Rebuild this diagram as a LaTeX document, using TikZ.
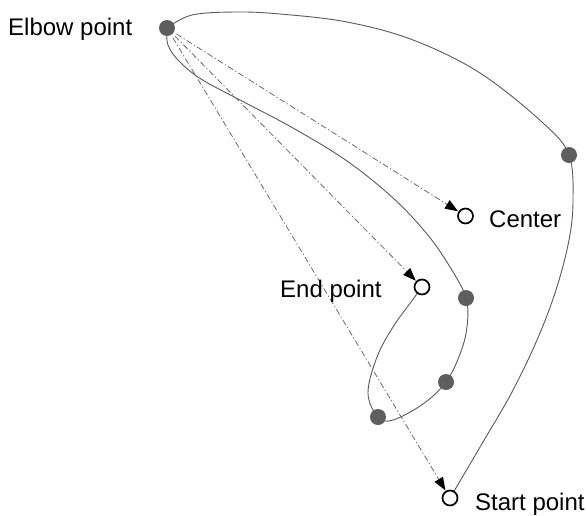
\documentclass[tikz,border=0pt]{standalone}
\usepackage{fontspec}
\setmainfont{Liberation Sans}
\usetikzlibrary{arrows.meta}
\definecolor{dotgray}{HTML}{5E5E5E}
\definecolor{pathgray}{HTML}{5A5A5A}
\definecolor{linkgray}{HTML}{6A6A6A}
\tikzset{
  waypoint/.style={circle, fill=dotgray, draw=none, minimum size=16pt, inner sep=0pt},
  openpoint/.style={circle, fill=white, draw=black, line width=1.7pt, minimum size=15pt, inner sep=0pt},
  trajectory/.style={draw=pathgray, line width=0.9pt},
  link/.style={draw=linkgray, line width=0.8pt,
    dash pattern=on 6pt off 2.5pt on 1.2pt off 2.5pt,
    -{Triangle[length=13pt,width=10pt,fill=black,line width=0pt]}, shorten <=3pt, shorten >=0.5pt},
  caption/.style={anchor=base west, inner sep=0pt, font=\fontsize{24}{28}\selectfont}
}
\begin{document}
\begin{tikzpicture}[x=1pt, y=-1pt]
  \useasboundingbox (0,0) rectangle (587,515);

  % positions of the marked points
  \coordinate (pElbow) at (167,28);
  \coordinate (pRight) at (569,155);
  \coordinate (pCenter) at (465.5,216);
  \coordinate (pEnd) at (422,287);
  \coordinate (pInA) at (466,298);
  \coordinate (pInB) at (446,382);
  \coordinate (pInC) at (378,417);
  \coordinate (pStart) at (450,498);

  % outer arc: start point up to the elbow
  \draw[trajectory] plot[smooth, tension=0.6] coordinates {
    (pStart) (483,442) (512,392) (537,340) (556,290) (569,240) (573,200)
    (pRight) (543,123) (480,73) (413,40) (347,22) (280,14) (236,12)
    (192,15) (pElbow)};

  % inner arc: elbow down through the loop to the end point
  \draw[trajectory] plot[smooth, tension=0.6] coordinates {
    (pElbow) (168,45) (179,61) (201,79) (240,100) (293,128) (347,161)
    (393,198) (427,234) (450,267) (pInA) (467,327) (460,354) (pInB)
    (423,404) (393,420) (pInC) (368,393) (377,357) (393,327) (411,302)
    (pEnd)};

  % markers
  \node[waypoint] (elbow) at (pElbow) {};
  \node[waypoint] (right) at (pRight) {};
  \node[waypoint] (inA) at (pInA) {};
  \node[waypoint] (inB) at (pInB) {};
  \node[waypoint] (inC) at (pInC) {};
  \node[openpoint] (center) at (pCenter) {};
  \node[openpoint] (endpt) at (pEnd) {};
  \node[openpoint] (startpt) at (pStart) {};

  % links from the elbow
  \draw[link] (elbow) -- (center);
  \draw[link] (elbow) -- (endpt);
  \draw[link] (elbow) -- (startpt);

  % labels
  \node[caption] (lElbow) at (8,35) {Elbow point};
  \node[caption] (lCenter) at (489,227) {Center};
  \node[caption] (lEnd) at (280,297) {End point};
  \node[caption] (lStart) at (475,510) {Start point};
\end{tikzpicture}
\end{document}
